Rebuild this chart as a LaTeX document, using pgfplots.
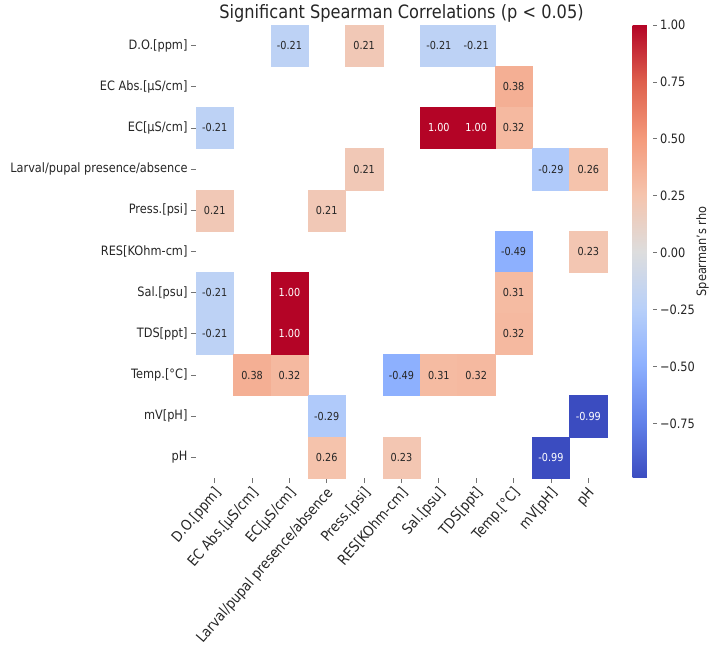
\documentclass[border=0pt]{standalone}
\usepackage{fontspec}
\setmainfont{DejaVu Sans}[FakeStretch=0.88]
\usepackage{pgfplots}
\usepackage{pgfplotstable}
\pgfplotsset{compat=1.18}

% diverging "coolwarm" palette
\pgfplotsset{colormap={coolwarm}{
  rgb255=(59,76,192) rgb255=(98,130,234) rgb255=(141,176,254)
  rgb255=(184,208,249) rgb255=(221,221,221) rgb255=(245,196,173)
  rgb255=(244,154,123) rgb255=(222,96,77) rgb255=(180,4,38)}}

% one heatmap cell: 411pt/11 wide, 453pt/11 high
\pgfdeclareplotmark{cell}{%
  \pgfpathrectangle{\pgfpoint{-18.68pt}{-20.59pt}}{\pgfpoint{37.36pt}{41.18pt}}%
  \pgfusepathqfillstroke}

% significant pairs (column index, row index, Spearman rho), moderate values
\pgfplotstableread{
x  y  rho
2  0  -0.21
4  0   0.21
6  0  -0.21
7  0  -0.21
8  1   0.38
0  2  -0.21
8  2   0.32
4  3   0.21
9  3  -0.29
10 3   0.26
0  4   0.21
3  4   0.21
8  5  -0.49
10 5   0.23
0  6  -0.21
8  6   0.31
0  7  -0.21
8  7   0.32
1  8   0.38
2  8   0.32
5  8  -0.49
6  8   0.31
7  8   0.32
3  9  -0.29
3  10  0.26
5  10  0.23
}\moderate

% significant pairs with |rho| close to 1 (labelled in white)
\pgfplotstableread{
x  y  rho
6  2   1.00
7  2   1.00
2  6   1.00
2  7   1.00
10 9  -0.99
9  10 -0.99
}\strong

\newcommand{\tickfont}{\fontsize{12.9}{15}\selectfont}

\begin{document}
\begin{tikzpicture}
\useasboundingbox (-196pt,-169pt) rectangle (517pt,478pt);
\begin{axis}[
  at={(0pt,0pt)}, anchor=south west,
  scale only axis, width=411pt, height=453pt,
  xmin=-0.5, xmax=10.5, ymin=-0.5, ymax=10.5, y dir=reverse,
  xtick={0,...,10}, ytick={0,...,10},
  xticklabels={D.O.[ppm],EC Abs.[μS/cm],EC[μS/cm],Larval/pupal presence/absence,Press.[psi],RES[KOhm-cm],Sal.[psu],TDS[ppt],Temp.[°C],mV[pH],pH},
  yticklabels={D.O.[ppm],EC Abs.[μS/cm],EC[μS/cm],Larval/pupal presence/absence,Press.[psi],RES[KOhm-cm],Sal.[psu],TDS[ppt],Temp.[°C],mV[pH],pH},
  xticklabel style={xshift=-2pt, yshift=2pt, rotate=49, anchor=north east, font=\fontsize{14.5}{17}\selectfont, text=black!85},
  yticklabel style={font=\tickfont, text=black!85},
  axis line style={draw=none},
  tick align=outside, tick pos=left, major tick length=5pt,
  major tick style={black!55, line width=0.8pt},
  colormap name=coolwarm, point meta min=-0.99, point meta max=1,
  title={Significant Spearman Correlations (p < 0.05)},
  title style={font=\fontsize{18.4}{22}\selectfont, text=black!85, at={(0.5,1)}, anchor=center, yshift=6pt},
  /pgf/number format/assume math mode=true,
  colorbar,
  colorbar style={
    scale only axis, width=20pt,
    at={(parent axis.north east)}, anchor=north west, xshift=17pt,
    ytick={-0.75,-0.5,-0.25,0,0.25,0.5,0.75,1},
    yticklabels={−0.75,−0.50,−0.25,0.00,0.25,0.50,0.75,1.00},
    yticklabel style={font=\tickfont, text=black!85},
    axis line style={draw=none},
    ytick pos=right, tick align=outside, major tick length=4pt,
    major tick style={black!55, line width=0.8pt},
    ylabel={Spearman's rho},
    every axis y label/.style={at={(axis description cs:0,0.5)}, xshift=70pt, rotate=90, anchor=center, font=\tickfont, text=black!85},
  },
  cellplot/.style={
    scatter, only marks, mark=cell, scatter src=explicit,
    scatter/use mapped color={draw=mapped color, fill=mapped color},
  },
  celllabels/.style={
    only marks, mark=none, point meta=explicit,
    nodes near coords={\pgfmathprintnumber[fixed,fixed zerofill,precision=2]{\pgfplotspointmeta}},
    every node near coord/.append style={anchor=center, font=\fontsize{11}{13}\selectfont, text=#1},
  },
]
% coloured cells
\addplot[cellplot] table[x=x, y=y, meta=rho] {\moderate};
\addplot[cellplot] table[x=x, y=y, meta=rho] {\strong};
% printed coefficients
\addplot[celllabels=black!85] table[x=x, y=y, meta=rho] {\moderate};
\addplot[celllabels=white] table[x=x, y=y, meta=rho] {\strong};
\end{axis}
\end{tikzpicture}
\end{document}
